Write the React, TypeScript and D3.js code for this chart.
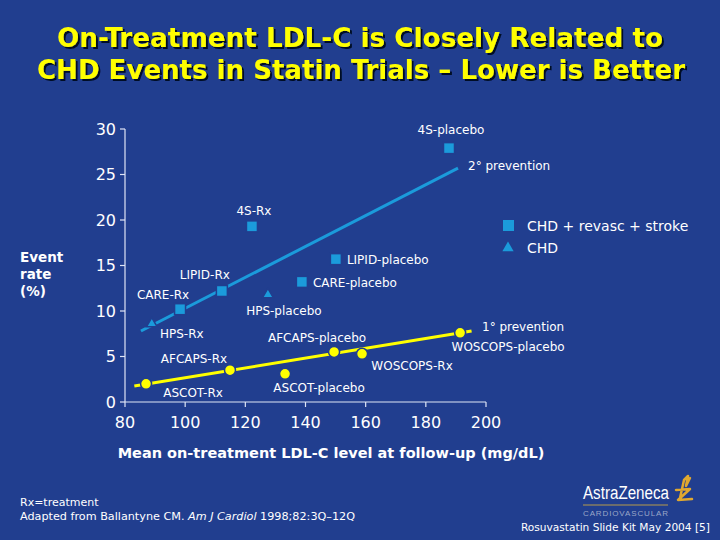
import React, {JSX, useEffect} from "react";
import * as d3 from "d3";

// event rate (%) vs mean on-treatment LDL-C (mg/dL)
const squareTrials = ["4S-placebo", "4S-Rx", "LIPID-placebo", "CARE-placebo", "LIPID-Rx", "CARE-Rx"];
const squareLdl = [187.7, 122.2, 150.1, 138.8, 112.2, 98.3];
const squareRate = [27.9, 19.3, 15.7, 13.2, 12.2, 10.2];

const triangleTrials = ["HPS-placebo", "HPS-Rx"];
const triangleLdl = [127.5, 88.9];
const triangleRate = [11.8, 8.6];

const circleTrials = ["ASCOT-Rx", "AFCAPS-Rx", "ASCOT-placebo", "AFCAPS-placebo", "WOSCOPS-Rx", "WOSCOPS-placebo"];
const circleLdl = [87.0, 114.9, 133.2, 149.5, 158.8, 191.4];
const circleRate = [2.0, 3.5, 3.1, 5.5, 5.3, 7.6];

// regression lines
const secondaryFit: [number, number][] = [[85.3, 7.8], [190.7, 25.7]];
const primaryFit: [number, number][] = [[83.1, 1.76], [195.2, 7.8]];

const xTicks = [80, 100, 120, 140, 160, 180, 200];
const yTicks = [0, 5, 10, 15, 20, 25, 30];
const legendLabels = ["CHD + revasc + stroke", "CHD"];
const titleLines = ["On-Treatment LDL-C is Closely Related to", "CHD Events in Statin Trials \u2013 Lower is Better"];

// label offsets (px) from each point: [dx, dy, anchor]
const labelOffsets: Record<string, [number, number, string]> = {
    "4S-placebo": [2, -18, "middle"],
    "4S-Rx": [2, -16, "middle"],
    "LIPID-placebo": [11, 1, "start"],
    "CARE-placebo": [11, 1, "start"],
    "LIPID-Rx": [-17, -16, "middle"],
    "CARE-Rx": [-17, -14, "middle"],
    "HPS-placebo": [16, 16, "middle"],
    "HPS-Rx": [30, 10, "middle"],
    "ASCOT-Rx": [47, 9, "middle"],
    "AFCAPS-Rx": [-36, -11, "middle"],
    "ASCOT-placebo": [34, 14, "middle"],
    "AFCAPS-placebo": [-17, -14, "middle"],
    "WOSCOPS-Rx": [50, 12, "middle"],
    "WOSCOPS-placebo": [48, 14, "middle"],
};

const BG = "#213e8f";
const BLUE = "#1b9bdb";
const YELLOW = "#ffff00";
const FONT = "'DejaVu Sans', Verdana, sans-serif";
const COND = "'DejaVu Sans Condensed', 'DejaVu Sans', sans-serif";

export default function App(): JSX.Element {
    useEffect(() => {
        document.body.style.margin = "0";
    }, []);
    const width = 720;
    const height = 540;
    const x = d3.scaleLinear([80, 200], [125, 486]);
    const y = d3.scaleLinear([0, 30], [402, 129]);
    const line = d3.line<[number, number]>(d => x(d[0]), d => y(d[1]));
    const tri = d3.symbol(d3.symbolTriangle, 50);
    const sq = 11;

    const labelFor = (name: string, lx: number, ly: number) => {
        const [dx, dy, anchor] = labelOffsets[name];
        return (
            <text key={"l" + name} x={x(lx) + dx} y={y(ly) + dy} dy="0.35em" textAnchor={anchor}
                  fontSize={12} fill="white">{name}</text>
        );
    };

    return (
        <svg width={width} height={height} style={{display: "block", background: BG}} fontFamily={FONT}>
            <defs>
                <filter id="shadow" x="-5%" y="-20%" width="110%" height="150%">
                    <feDropShadow dx={2} dy={2} stdDeviation={0.6} floodColor="#050a25" floodOpacity={1}/>
                </filter>
            </defs>
            <rect width={width} height={height} fill={BG}/>
            {/* title */}
            <g fontFamily={COND} fontWeight="bold" fontSize={27} textAnchor="middle" fill={YELLOW}
               filter="url(#shadow)">
                <text x={360} y={47} textLength={606} lengthAdjust="spacingAndGlyphs">{titleLines[0]}</text>
                <text x={361} y={79} textLength={648} lengthAdjust="spacingAndGlyphs">{titleLines[1]}</text>
            </g>

            {/* axes */}
            <g stroke="#dfe5f5" strokeWidth={1.2}>
                <line x1={x(80)} x2={x(80)} y1={y(30)} y2={y(0)}/>
                <line x1={x(80)} x2={x(200)} y1={y(0)} y2={y(0)}/>
                {yTicks.map(t => <line key={"yt" + t} x1={x(80) - 5} x2={x(80)} y1={y(t)} y2={y(t)}/>)}
                {xTicks.map(t => <line key={"xt" + t} x1={x(t)} x2={x(t)} y1={y(0)} y2={y(0) + 5}/>)}
            </g>
            <g fill="white" fontSize={16}>
                {yTicks.map(t => <text key={"yl" + t} x={x(80) - 9} y={y(t)} dy="0.35em" textAnchor="end">{t}</text>)}
                {xTicks.map(t => <text key={"xl" + t} x={x(t)} y={y(0) + 26} textAnchor="middle">{t}</text>)}
            </g>
            <text x={331} y={458} textAnchor="middle" fill="white" fontWeight="bold" fontSize={14.5}>
                Mean on-treatment LDL-C level at follow-up (mg/dL)
            </text>
            <g fill="white" fontWeight="bold" fontSize={13.5}>
                <text x={20} y={262}>Event</text>
                <text x={20} y={279}>rate</text>
                <text x={20} y={296}>(%)</text>
            </g>

            {/* fit lines */}
            <path d={line(secondaryFit) as string} stroke={BLUE} strokeWidth={3} fill="none"/>
            <path d={line(primaryFit) as string} stroke={YELLOW} strokeWidth={3} fill="none"/>
            <text x={468} y={166} dy="0.35em" fill="white" fontSize={12}>2° prevention</text>
            <text x={482} y={327} dy="0.35em" fill="white" fontSize={12}>1° prevention</text>

            {/* markers */}
            {squareLdl.map((d, i) => (
                <rect key={"s" + i} x={x(d) - sq / 2} y={y(squareRate[i]) - sq / 2} width={sq} height={sq}
                      fill={BLUE} stroke={BG} strokeWidth={1.5}/>
            ))}
            {triangleLdl.map((d, i) => (
                <path key={"t" + i} d={tri() as string} transform={`translate(${x(d)},${y(triangleRate[i])})`}
                      fill={BLUE} stroke={BG} strokeWidth={1.5}/>
            ))}
            {circleLdl.map((d, i) => (
                <circle key={"c" + i} cx={x(d)} cy={y(circleRate[i])} r={5.5} fill={YELLOW} stroke={BG}
                        strokeWidth={1.5}/>
            ))}
            {squareTrials.map((n, i) => labelFor(n, squareLdl[i], squareRate[i]))}
            {triangleTrials.map((n, i) => labelFor(n, triangleLdl[i], triangleRate[i]))}
            {circleTrials.map((n, i) => labelFor(n, circleLdl[i], circleRate[i]))}

            {/* legend */}
            <rect x={503} y={220} width={11} height={11} fill={BLUE}/>
            <path d={d3.symbol(d3.symbolTriangle, 55)() as string} transform="translate(508,248)" fill={BLUE}/>
            {legendLabels.map((l, i) => (
                <text key={l} x={527} y={226 + i * 22} dy="0.35em" fill="white" fontSize={14}>{l}</text>
            ))}

            {/* footer */}
            <g fill="white" fontSize={11} fontFamily={FONT}>
                <text x={20} y={506}>Rx=treatment</text>
                <text x={20} y={520} textLength={335} lengthAdjust="spacingAndGlyphs">Adapted from Ballantyne CM. <tspan fontStyle="italic">Am J Cardiol</tspan> 1998;82:3Q–12Q</text>
                <text x={710} y={531} fontSize={10} fontFamily={COND} textAnchor="end" textLength={189}
                      lengthAdjust="spacingAndGlyphs">Rosuvastatin Slide Kit May 2004 [5]</text>
            </g>
            <g>
                <text x={583} y={499} fill="white" fontSize={18} fontFamily="'Liberation Sans', Arial, sans-serif"
                      textLength={86} lengthAdjust="spacingAndGlyphs">AstraZeneca</text>
                <line x1={583} x2={668} y1={505} y2={505} stroke="#b79a4a" strokeWidth={1}/>
                <text x={583} y={516} fill="#9aa6c8" fontSize={8} fontFamily="'Liberation Sans', Arial, sans-serif"
                      textLength={85} lengthAdjust="spacing">CARDIOVASCULAR</text>
                <path d="M680,498 L684,480 L688,476 L686,486 L690,478 M676,490 L690,489 L678,500 L692,499"
                      stroke="#e0a830" strokeWidth={2.5} fill="none" strokeLinejoin="round" strokeLinecap="round"/>
            </g>
        </svg>
    );
}
